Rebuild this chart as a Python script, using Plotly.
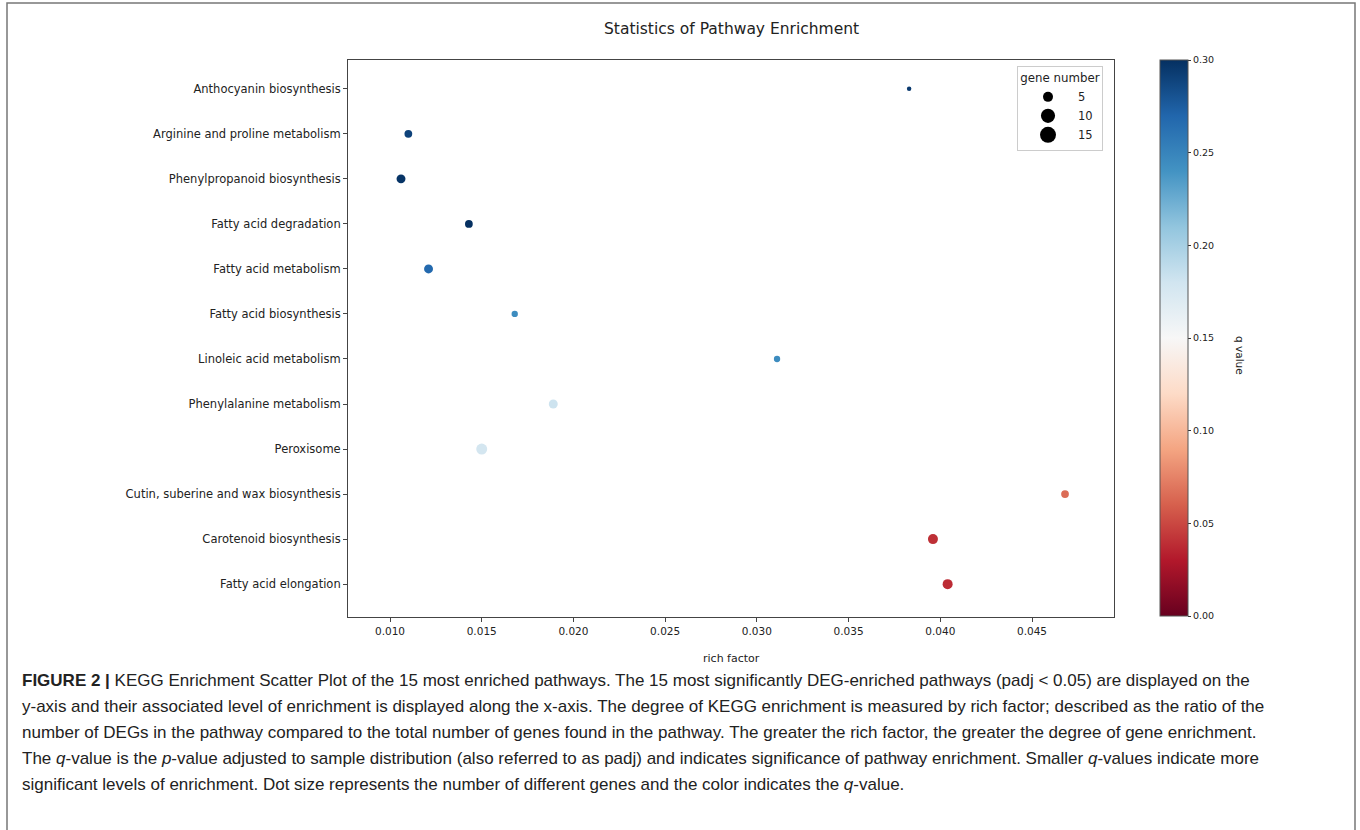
import plotly.graph_objects as go

W, H = 1360, 830

# ---------------- data ----------------
pathways = [
    "Anthocyanin biosynthesis",
    "Arginine and proline metabolism",
    "Phenylpropanoid biosynthesis",
    "Fatty acid degradation",
    "Fatty acid metabolism",
    "Fatty acid biosynthesis",
    "Linoleic acid metabolism",
    "Phenylalanine metabolism",
    "Peroxisome",
    "Cutin, suberine and wax biosynthesis",
    "Carotenoid biosynthesis",
    "Fatty acid elongation",
]
rich_factor = [0.0383, 0.0110, 0.0106, 0.0143, 0.0121, 0.0168,
               0.0311, 0.0189, 0.0150, 0.0468, 0.0396, 0.0404]
q_value = [0.295, 0.290, 0.298, 0.300, 0.268, 0.245,
           0.245, 0.182, 0.178, 0.065, 0.040, 0.038]
gene_number = [1, 3, 4, 3, 4, 2, 2, 4, 6, 3, 5, 5]

legend_numbers = [5, 10, 15]
cbar_ticks = [0.00, 0.05, 0.10, 0.15, 0.20, 0.25, 0.30]
x_ticks = [0.010, 0.015, 0.020, 0.025, 0.030, 0.035, 0.040, 0.045]

caption_lines = [
    "<b>FIGURE 2 |</b> KEGG Enrichment Scatter Plot of the 15 most enriched pathways. The 15 most significantly DEG-enriched pathways (padj &lt; 0.05) are displayed on the",
    "y-axis and their associated level of enrichment is displayed along the x-axis. The degree of KEGG enrichment is measured by rich factor; described as the ratio of the",
    "number of DEGs in the pathway compared to the total number of genes found in the pathway. The greater the rich factor, the greater the degree of gene enrichment.",
    "The <i>q</i>-value is the <i>p</i>-value adjusted to sample distribution (also referred to as padj) and indicates significance of pathway enrichment. Smaller <i>q</i>-values indicate more",
    "significant levels of enrichment. Dot size represents the number of different genes and the color indicates the <i>q</i>-value.",
]

# matplotlib RdBu
rdbu = ["#67001f", "#b2182b", "#d6604d", "#f4a582", "#fddbc7", "#f7f7f7",
        "#d1e5f0", "#92c5de", "#4393c3", "#2166ac", "#053061"]
colorscale = [[i / 10, c] for i, c in enumerate(rdbu)]

SIZEREF = 0.1
FONT = "DejaVu Sans"

def px_x(p):
    return p / W

def px_y(p):
    return 1 - p / H

fig = go.Figure()

fig.add_trace(go.Scatter(
    x=rich_factor, y=pathways, mode="markers", showlegend=False,
    marker=dict(
        size=gene_number, sizemode="area", sizeref=SIZEREF, opacity=1,
        color=q_value, colorscale=colorscale, cmin=0, cmax=0.3,
        line=dict(width=0),
        showscale=True,
        colorbar=dict(
            x=px_x(1160), xanchor="left", xpad=0,
            y=px_y(338), yanchor="middle", ypad=0,
            len=556, lenmode="pixels",
            thickness=28, thicknessmode="pixels",
            outlinewidth=1, outlinecolor="#555",
            tickvals=cbar_ticks, tickformat=".2f",
            ticks="outside", ticklen=3, tickcolor="#333",
            tickfont=dict(family=FONT, size=9.5, color="#222"),
        ),
    ),
    hoverinfo="skip",
))

# size legend
for n in legend_numbers:
    fig.add_trace(go.Scatter(
        x=[None], y=[None], mode="markers", name=str(n),
        marker=dict(size=2 * (n / (2 * SIZEREF)) ** 0.5, sizemode="diameter",
                    color="black", opacity=1, line=dict(width=0)),
    ))

fig.update_layout(
    width=W, height=H,
    margin=dict(l=0, r=0, t=0, b=0),
    paper_bgcolor="white", plot_bgcolor="white",
    font=dict(family=FONT, color="#222"),
    xaxis=dict(
        domain=[px_x(348), px_x(1114)],
        range=[0.00771, 0.04947],
        tickvals=x_ticks, tickformat=".3f",
        ticks="outside", ticklen=4, tickcolor="#444",
        tickfont=dict(family=FONT, size=10.5, color="#222"),
        showline=True, linecolor="#444", linewidth=1, mirror=True,
        showgrid=False, zeroline=False,
    ),
    yaxis=dict(
        domain=[px_y(617), px_y(60)],
        type="category", categoryorder="array",
        categoryarray=list(reversed(pathways)),
        range=[-0.73, 11.64],
        ticks="outside", ticklen=4, tickcolor="#444",
        tickfont=dict(family=FONT, size=11.5, color="#222"),
        showline=True, linecolor="#444", linewidth=1, mirror=True,
        showgrid=False, zeroline=False,
    ),
    legend=dict(
        x=px_x(1017), xanchor="left", y=px_y(66), yanchor="top",
        bgcolor="white", bordercolor="#cccccc", borderwidth=1,
        title=dict(text="gene number", side="top center",
                   font=dict(family=FONT, size=11.8, color="#222")),
        font=dict(family=FONT, size=11.5, color="#222"),
        itemsizing="trace", itemwidth=50,
    ),
)

annotations = [
    dict(text="Statistics of Pathway Enrichment", x=px_x(731), y=px_y(29),
         xref="paper", yref="paper", showarrow=False, xanchor="center", yanchor="middle",
         font=dict(family=FONT, size=15.5, color="#222")),
    dict(text="rich factor", x=px_x(731), y=px_y(658),
         xref="paper", yref="paper", showarrow=False, xanchor="center", yanchor="middle",
         font=dict(family=FONT, size=11, color="#222")),
    dict(text="q value", x=px_x(1240), y=px_y(355), textangle=90,
         xref="paper", yref="paper", showarrow=False, xanchor="center", yanchor="middle",
         font=dict(family=FONT, size=10.5, color="#222")),
]
for i, line in enumerate(caption_lines):
    annotations.append(dict(
        text=line, x=px_x(20), y=px_y(680 + 26 * i),
        xref="paper", yref="paper", showarrow=False, xanchor="left", yanchor="middle",
        font=dict(family="Liberation Sans", size=17, color="#222"),
    ))
fig.update_layout(annotations=annotations)

fig.add_shape(type="rect", xref="paper", yref="paper",
              x0=px_x(7), x1=px_x(1355), y0=-0.05, y1=px_y(3),
              line=dict(color="#777", width=1.5), fillcolor="rgba(0,0,0,0)")

fig.write_html("out.html")
